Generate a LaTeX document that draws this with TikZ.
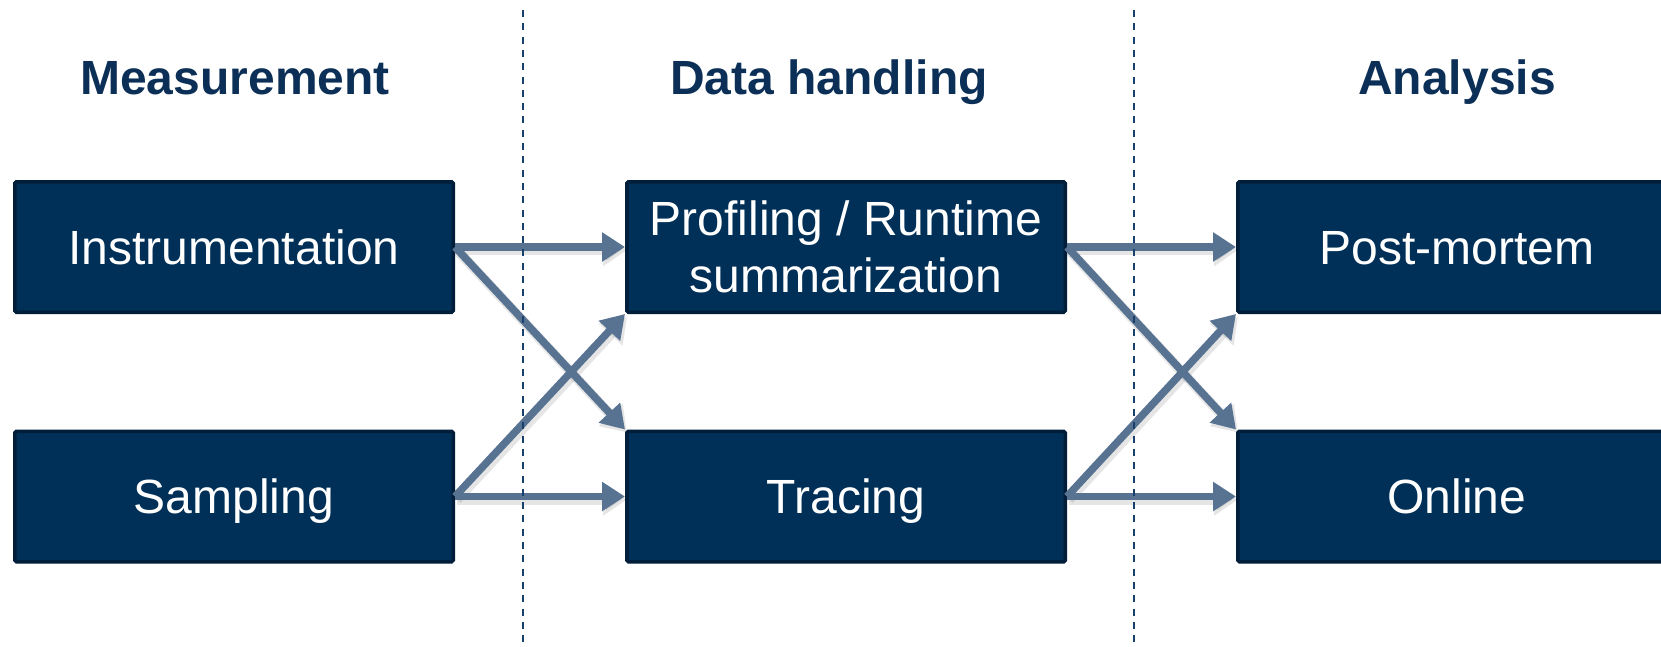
\documentclass[tikz,border=0pt]{standalone}
\usepackage{fontspec}
\setmainfont{Liberation Sans}
\usetikzlibrary{arrows.meta}
\definecolor{boxfill}{HTML}{003057}
\definecolor{boxedge}{HTML}{001D3A}
\definecolor{flow}{HTML}{587391}
\definecolor{head}{HTML}{0B2F56}
\definecolor{divider}{HTML}{17416C}
\begin{document}
\begin{tikzpicture}[x=1pt,y=-1pt,
  stage/.style={draw=boxedge, line width=3.5pt, fill=boxfill, rounded corners=1.5pt,
    minimum width=438.5pt, minimum height=130.5pt, inner sep=0pt, text=white,
    font=\fontsize{48}{56.5}\selectfont, align=center},
  oneline/.style={text height=34.4pt, text depth=0pt},
  header/.style={text=head, font=\fontsize{48}{56}\selectfont\bfseries, anchor=base},
  flowarrow/.style={draw=flow, line width=7.5pt, -{Triangle[length=23pt,width=28pt]}},
  flowshadow/.style={draw=black, opacity=0.10, line width=10pt,
    -{Triangle[length=24pt,width=31pt]},
    transform canvas={xshift=2pt,yshift=-3pt}},
  divide/.style={draw=divider, line width=2.8pt, dash pattern=on 7pt off 6.3pt}]
\useasboundingbox (0,0) rectangle (1661,646);
\clip (0,0) rectangle (1661,646);

% column headers
\node[header] (hmeas) at (235,94) {Measurement};
\node[header] (hdata) at (829,94) {Data handling};
\node[header] (hana)  at (1457,94) {Analysis};

% stages
\node[stage, oneline] (inst) at (234,247) {Instrumentation};
\node[stage, oneline] (samp) at (234,496.5) {Sampling};
\node[stage] (prof) at (846,247) {Profiling / Runtime\\summarization};
\node[stage, oneline] (trac) at (846,496.5) {Tracing};
\node[stage, oneline] (post) at (1457,247) {Post-mortem};
\node[stage, oneline] (onl)  at (1457,496.5) {Online};

% flows between stages, each with a faint drop shadow
\foreach \a/\b in {inst.east/prof.west, inst.east/trac.north west,
                   samp.east/prof.south west, samp.east/trac.west,
                   prof.east/post.west, prof.east/onl.north west,
                   trac.east/post.south west, trac.east/onl.west}
  \draw[flowshadow] (\a) -- (\b);
\foreach \a/\b in {inst.east/prof.west, inst.east/trac.north west,
                   samp.east/prof.south west, samp.east/trac.west,
                   prof.east/post.west, prof.east/onl.north west,
                   trac.east/post.south west, trac.east/onl.west}
  \draw[flowarrow] (\a) -- (\b);

% column dividers
\coordinate (d1t) at (523,10);
\coordinate (d1b) at (523,646);
\coordinate (d2t) at (1134,10);
\coordinate (d2b) at (1134,646);
\draw[divide] (d1t) -- (d1b);
\draw[divide] (d2t) -- (d2b);
\end{tikzpicture}
\end{document}
